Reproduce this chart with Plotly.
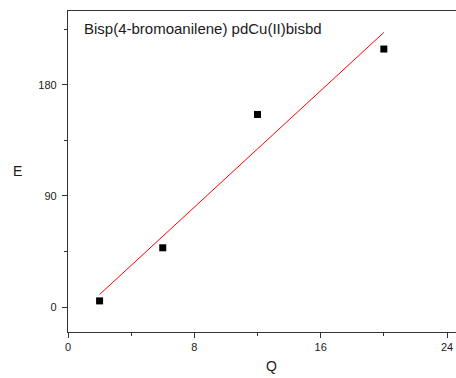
import numpy as np
import plotly.graph_objects as go

# Data
q_values = [2, 6, 12, 20]
e_values = [5, 48, 156, 209]
x_ticks = [0, 8, 16, 24]
y_ticks = [0, 90, 180]
title_text = "Bisp(4-bromoanilene) pdCu(II)bisbd"

# Linear fit drawn over the data span
slope, intercept = np.polyfit(q_values, e_values, 1)
fit_x = [min(q_values), max(q_values)]
fit_y = [slope * x + intercept for x in fit_x]

FONT = "Liberation Sans, Arial"
INK = "#1a1a1a"

fig = go.Figure()
fig.add_trace(go.Scatter(x=fit_x, y=fit_y, mode="lines",
                         line=dict(color="#ff0000", width=1), showlegend=False))
fig.add_trace(go.Scatter(x=q_values, y=e_values, mode="markers",
                         marker=dict(symbol="square", size=7, color="black"),
                         showlegend=False))

axis_common = dict(
    showgrid=False, zeroline=False, showline=True, linecolor="#333333", linewidth=1.3,
    ticks="outside", ticklen=5, tickwidth=1, tickcolor="#333333", automargin=False,
    tickfont=dict(family=FONT, size=11, color=INK),
)

fig.update_layout(
    width=456, height=378,
    margin=dict(l=68, r=0, t=11, b=46),
    plot_bgcolor="white", paper_bgcolor="white",
    xaxis=dict(range=[0, 24.57], tickvals=x_ticks, mirror=True,
               minor=dict(dtick=4, ticks="outside", ticklen=3, tickcolor="#333333"),
               **axis_common),
    yaxis=dict(range=[-20.2, 239.8], tickvals=y_ticks, ticklabelstandoff=3,
               minor=dict(dtick=45, tick0=0, ticks="outside", ticklen=3, tickcolor="#333333"),
               **axis_common),
    annotations=[
        dict(text=title_text, xref="paper", yref="paper", x=0.036, y=0.944,
             xanchor="left", yanchor="middle", showarrow=False,
             font=dict(family=FONT, size=15, color=INK)),
        dict(text="Q", xref="paper", yref="paper", x=0.525, y=-0.107,
             xanchor="center", yanchor="middle", showarrow=False,
             font=dict(family=FONT, size=14, color=INK)),
        dict(text="E", xref="paper", yref="paper", x=-0.131, y=0.502,
             xanchor="center", yanchor="middle", showarrow=False,
             font=dict(family=FONT, size=14, color=INK)),
    ],
)

# remove the default page margin so the figure fills the window exactly
fig.write_html("out.html", config={"displayModeBar": False},
               post_script="document.body.style.margin='0';document.body.style.overflow='hidden';")
